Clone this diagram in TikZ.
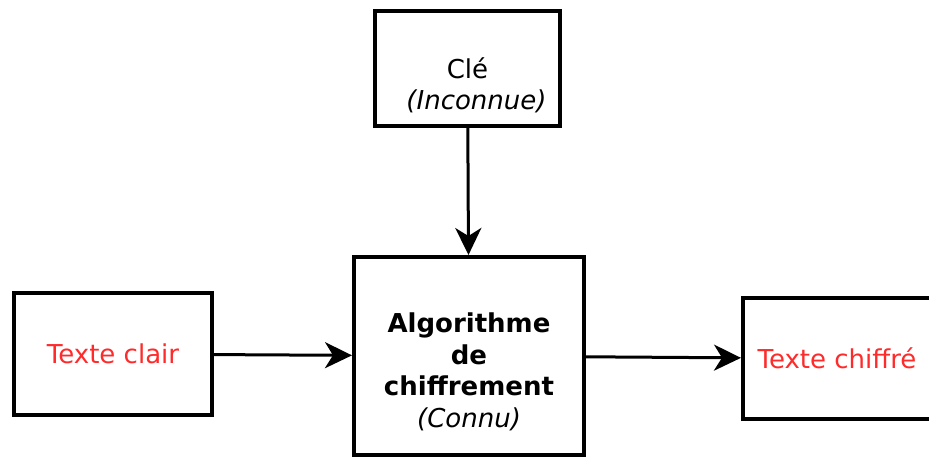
\documentclass[tikz,border=0pt]{standalone}
\usepackage{fontspec}
\setmainfont{DejaVu Sans}
\usetikzlibrary{arrows.meta}
\definecolor{texred}{RGB}{255,42,42}
\tikzset{
    boite/.style={draw, line width=4pt, inner sep=0pt},
    texte/.style={align=center, inner sep=0pt, font=\fontsize{26}{31.5}\selectfont},
    fleche/.style={line width=3pt, -{Stealth[length=27pt,width=26pt,inset=8pt]}}
}
\begin{document}
\begin{tikzpicture}[x=1pt, y=-1pt]
    \useasboundingbox (0,0) rectangle (929,459);
    %boites
    \node[boite, minimum width=185pt, minimum height=115pt] (cle) at (467.5,68.5) {};
    \node[boite, minimum width=230pt, minimum height=198pt] (algo) at (469,356) {};
    \node[boite, minimum width=198pt, minimum height=122pt] (clair) at (113,354) {};
    \node[boite, minimum width=188pt, minimum height=121pt] (chiffre) at (837,358.5) {};

    %textes
    \node[texte] (cletxt) at ([yshift=-17pt]cle.center) {Clé\\ \hspace{18pt}\textit{(Inconnue)}};
    \node[texte] (algotxt) at ([yshift=-16pt]algo.center) {\textbf{Algorithme}\\ \textbf{de}\\ \textbf{chiffrement}\\ \textit{(Connu)}};
    \node[texte, text=texred] (clairtxt) at (clair.center) {Texte clair};
    \node[texte, text=texred] (chiffretxt) at (chiffre.center) {Texte chiffré};

    %fleches
    \draw[fleche] (cle) -- (algo);
    \draw[fleche] (clair) -- (algo);
    \draw[fleche] (algo) -- (chiffre);
\end{tikzpicture}
\end{document}
